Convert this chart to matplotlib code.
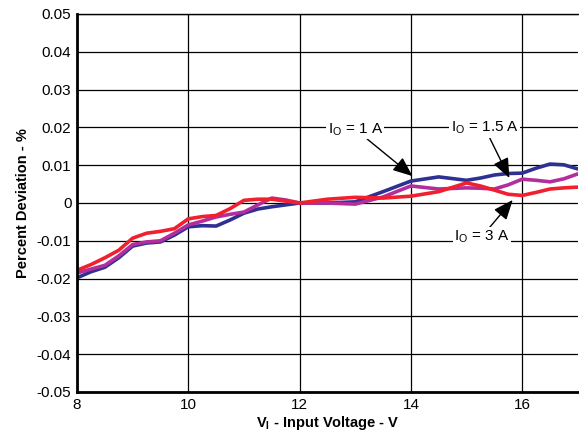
import numpy as np
import matplotlib
matplotlib.use("Agg")
import matplotlib.pyplot as plt
from matplotlib.ticker import FixedLocator, FuncFormatter

plt.rcParams['font.family'] = ['Liberation Sans', 'DejaVu Sans']

# input voltage (V)
vin = [8.0, 8.25, 8.5, 8.75, 9.0, 9.25, 9.5, 9.75, 10.0, 10.25, 10.5, 10.75, 11.0, 11.25,
       11.5, 11.75, 12.0, 12.5, 13.0, 13.5, 14.0, 14.5, 15.0, 15.25, 15.5, 15.75, 16.0,
       16.25, 16.5, 16.75, 17.0]

# percent deviation for each load current
dev_1a = [-0.0198, -0.0182, -0.0170, -0.0145, -0.0114, -0.0106, -0.0103, -0.0085, -0.0063,
          -0.0060, -0.0061, -0.0045, -0.0027, -0.0016, -0.0010, -0.0005, 0.0000, 0.0000,
          0.0003, 0.0030, 0.0058, 0.0069, 0.0060, 0.0066, 0.0074, 0.0078, 0.0079, 0.0092,
          0.0103, 0.0101, 0.0090]
dev_15a = [-0.0185, -0.0175, -0.0165, -0.0140, -0.0110, -0.0103, -0.0100, -0.0080, -0.0058,
           -0.0048, -0.0037, -0.0030, -0.0024, -0.0005, 0.0013, 0.0008, 0.0000, 0.0000,
           -0.0003, 0.0016, 0.0045, 0.0037, 0.0040, 0.0039, 0.0037, 0.0048, 0.0063, 0.0060,
           0.0056, 0.0064, 0.0077]
dev_3a = [-0.0178, -0.0163, -0.0145, -0.0125, -0.0093, -0.0080, -0.0075, -0.0068, -0.0042,
          -0.0036, -0.0033, -0.0015, 0.0007, 0.0010, 0.0010, 0.0005, 0.0000, 0.0010,
          0.0015, 0.0013, 0.0018, 0.0030, 0.0053, 0.0045, 0.0034, 0.0023, 0.0020, 0.0028,
          0.0037, 0.0040, 0.0042]

fig = plt.figure(figsize=(5.79, 4.37), dpi=100)
ax = fig.add_axes([0.133, 0.103, 0.865, 0.865])

ax.plot(vin, dev_1a, color='#2e3192', lw=2.6, solid_capstyle='round', solid_joinstyle='round')
ax.plot(vin, dev_15a, color='#b32d9c', lw=2.6, solid_capstyle='round', solid_joinstyle='round')
ax.plot(vin, dev_3a, color='#f0202e', lw=2.6, solid_capstyle='round', solid_joinstyle='round')

ax.set_xlim(8, 17)
ax.set_ylim(-0.05, 0.05)
ax.xaxis.set_major_locator(FixedLocator([8, 10, 12, 14, 16]))
ax.yaxis.set_major_locator(FixedLocator(np.round(np.arange(-0.05, 0.0501, 0.01), 2)))
ax.yaxis.set_major_formatter(FuncFormatter(lambda v, p: '0' if abs(v) < 1e-9 else '%.2f' % v))
ax.grid(True, color='black', lw=0.9)
ax.tick_params(length=0, labelsize=11, pad=4)
for s in ['left', 'bottom']:
    ax.spines[s].set_linewidth(2)
ax.spines['top'].set_linewidth(1)
ax.spines['right'].set_visible(False)

ax.set_xlabel('V$_\\mathregular{I}$ - Input Voltage - V', fontsize=10.5, fontweight='bold', labelpad=2)
ax.set_ylabel('Percent Deviation - %', fontsize=10.5, fontweight='bold', labelpad=5)

box = dict(facecolor='white', edgecolor='none', pad=1)
arrow = dict(arrowstyle='-|>,head_length=1.1,head_width=0.45', color='black', lw=1, shrinkA=0, shrinkB=0)
ax.annotate('I$_\\mathregular{O}$ = 1 A', xy=(14.03, 0.0071), xytext=(13.0, 0.0195),
            ha='center', va='center', fontsize=11, bbox=box, arrowprops=arrow)
ax.annotate('I$_\\mathregular{O}$ = 1.5 A', xy=(15.77, 0.0066), xytext=(15.33, 0.0198),
            ha='center', va='center', fontsize=11, bbox=box, arrowprops=arrow)
ax.annotate('I$_\\mathregular{O}$ = 3 A', xy=(15.83, 0.0008), xytext=(15.27, -0.0090),
            ha='center', va='center', fontsize=11, bbox=box, arrowprops=arrow)

fig.savefig('out.png', dpi=100)
